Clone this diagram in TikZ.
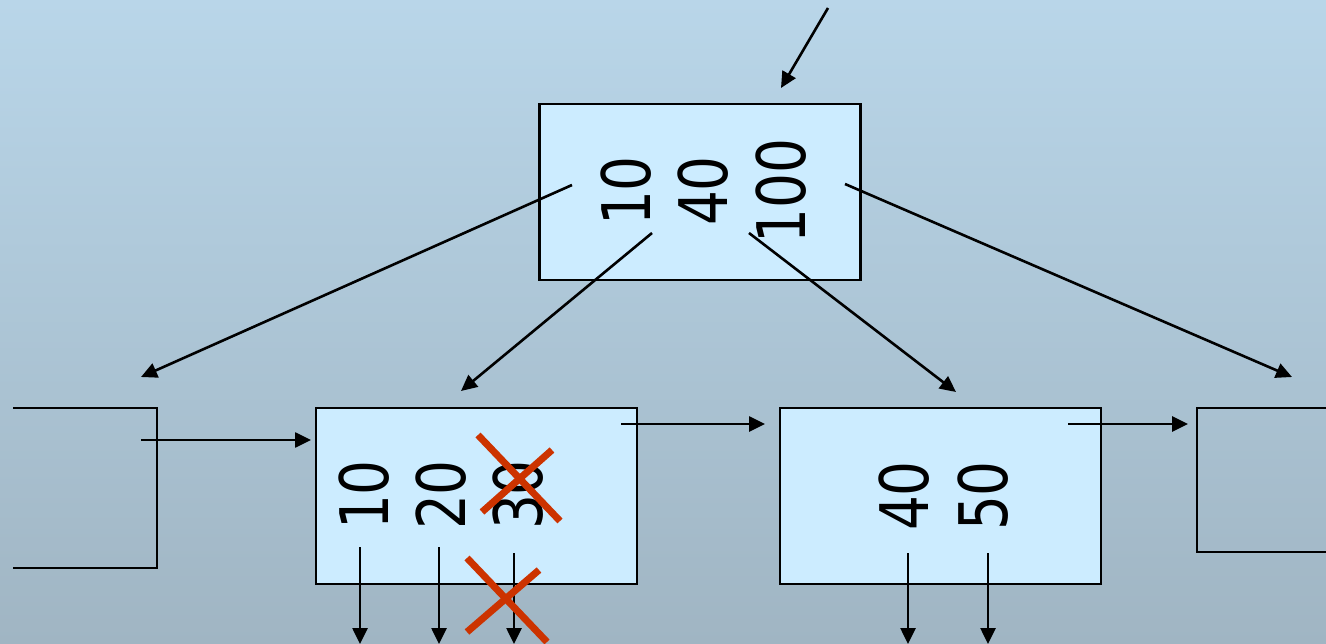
\documentclass[tikz,border=0pt]{standalone}
\usepackage{fontspec}
\newfontfamily\numfont[FakeStretch=0.82]{DejaVu Sans}
\usetikzlibrary{arrows.meta}
\definecolor{bgtop}{HTML}{B9D6E9}
\definecolor{bgbot}{HTML}{A0B5C3}
\definecolor{boxfill}{HTML}{CCECFF}
\definecolor{crossred}{HTML}{CC3300}
\tikzset{
  keybox/.style={draw=black, line width=2.2pt, fill=boxfill, rectangle, inner sep=0pt, minimum width=321pt, minimum height=176pt},
  keynum/.style={rotate=90, anchor=base, inner sep=0pt, font=\numfont\fontsize{67}{67}\selectfont},
  ptr/.style={draw=black, line width=2.6pt, -{Triangle[length=16pt,width=15pt]}},
  plain/.style={draw=black, line width=2.2pt},
  crossout/.style={draw=crossred, line width=7pt},
}
\begin{document}
\begin{tikzpicture}[x=1pt, y=-1pt]
\useasboundingbox (0,0) rectangle (1326,644);
\shade[top color=bgtop, bottom color=bgbot] (0,0) rectangle (1326,644);

% boxes
\node[keybox] (root) at (700,192) {};
\node[keybox] (ml) at (476.5,496) {};
\node[keybox] (mr) at (940.5,496) {};

% partial boxes
\draw[plain] (13,408) -- (157,408) -- (157,568) -- (13,568);
\draw[plain] (1330,408) -- (1197,408) -- (1197,552) -- (1330,552);

% keys
\node[keynum] (r10) at (650,191) {10};
\node[keynum] (r40) at (727,191) {40};
\node[keynum] (r100) at (805,191) {100};
\node[keynum] (l10) at (388,495) {10};
\node[keynum] (l20) at (465,495) {20};
\node[keynum] (l30) at (542,495) {30};
\node[keynum] (m40) at (928,496) {40};
\node[keynum] (m50) at (1007,496) {50};

% incoming pointer
\coordinate (in) at (828,8);
\coordinate (inT) at (781,88);
\draw[ptr] (in) -- (inT);

% root pointers
\coordinate (p0) at (572,185);
\coordinate (t0) at (141,377);
\coordinate (p1) at (652,233);
\coordinate (t1) at (461,391);
\coordinate (p2) at (749,233);
\coordinate (t2) at (956,392);
\coordinate (p3) at (845,184);
\coordinate (t3) at (1292,377);
\draw[ptr] (p0) -- (t0);
\draw[ptr] (p1) -- (t1);
\draw[ptr] (p2) -- (t2);
\draw[ptr] (p3) -- (t3);

% sibling pointers
\coordinate (lbs) at (141,440);
\coordinate (lbt) at (311,440);
\draw[ptr] (lbs) -- (lbt);
\coordinate (mls) at (621,424);
\coordinate (mlt) at (765,424);
\draw[ptr] (mls) -- (mlt);
\coordinate (mrs) at (1068,424);
\coordinate (mrt) at (1188,424);
\draw[ptr] (mrs) -- (mrt);

% child pointers
\coordinate (c1s) at (360,547); \coordinate (c1t) at (360,644);
\coordinate (c2s) at (439,547); \coordinate (c2t) at (439,644);
\coordinate (c3s) at (514,553); \coordinate (c3t) at (514,644);
\coordinate (c4s) at (908,553); \coordinate (c4t) at (908,644);
\coordinate (c5s) at (988,553); \coordinate (c5t) at (988,644);
\draw[ptr] (c1s) -- (c1t);
\draw[ptr] (c2s) -- (c2t);
\draw[ptr] (c3s) -- (c3t);
\draw[ptr] (c4s) -- (c4t);
\draw[ptr] (c5s) -- (c5t);

% crosses
\draw[crossout] (478,435) -- (560,521);
\draw[crossout] (482,512) -- (552,450);
\draw[crossout] (467,558) -- (547,642);
\draw[crossout] (467,632) -- (539,570);
\end{tikzpicture}
\end{document}
